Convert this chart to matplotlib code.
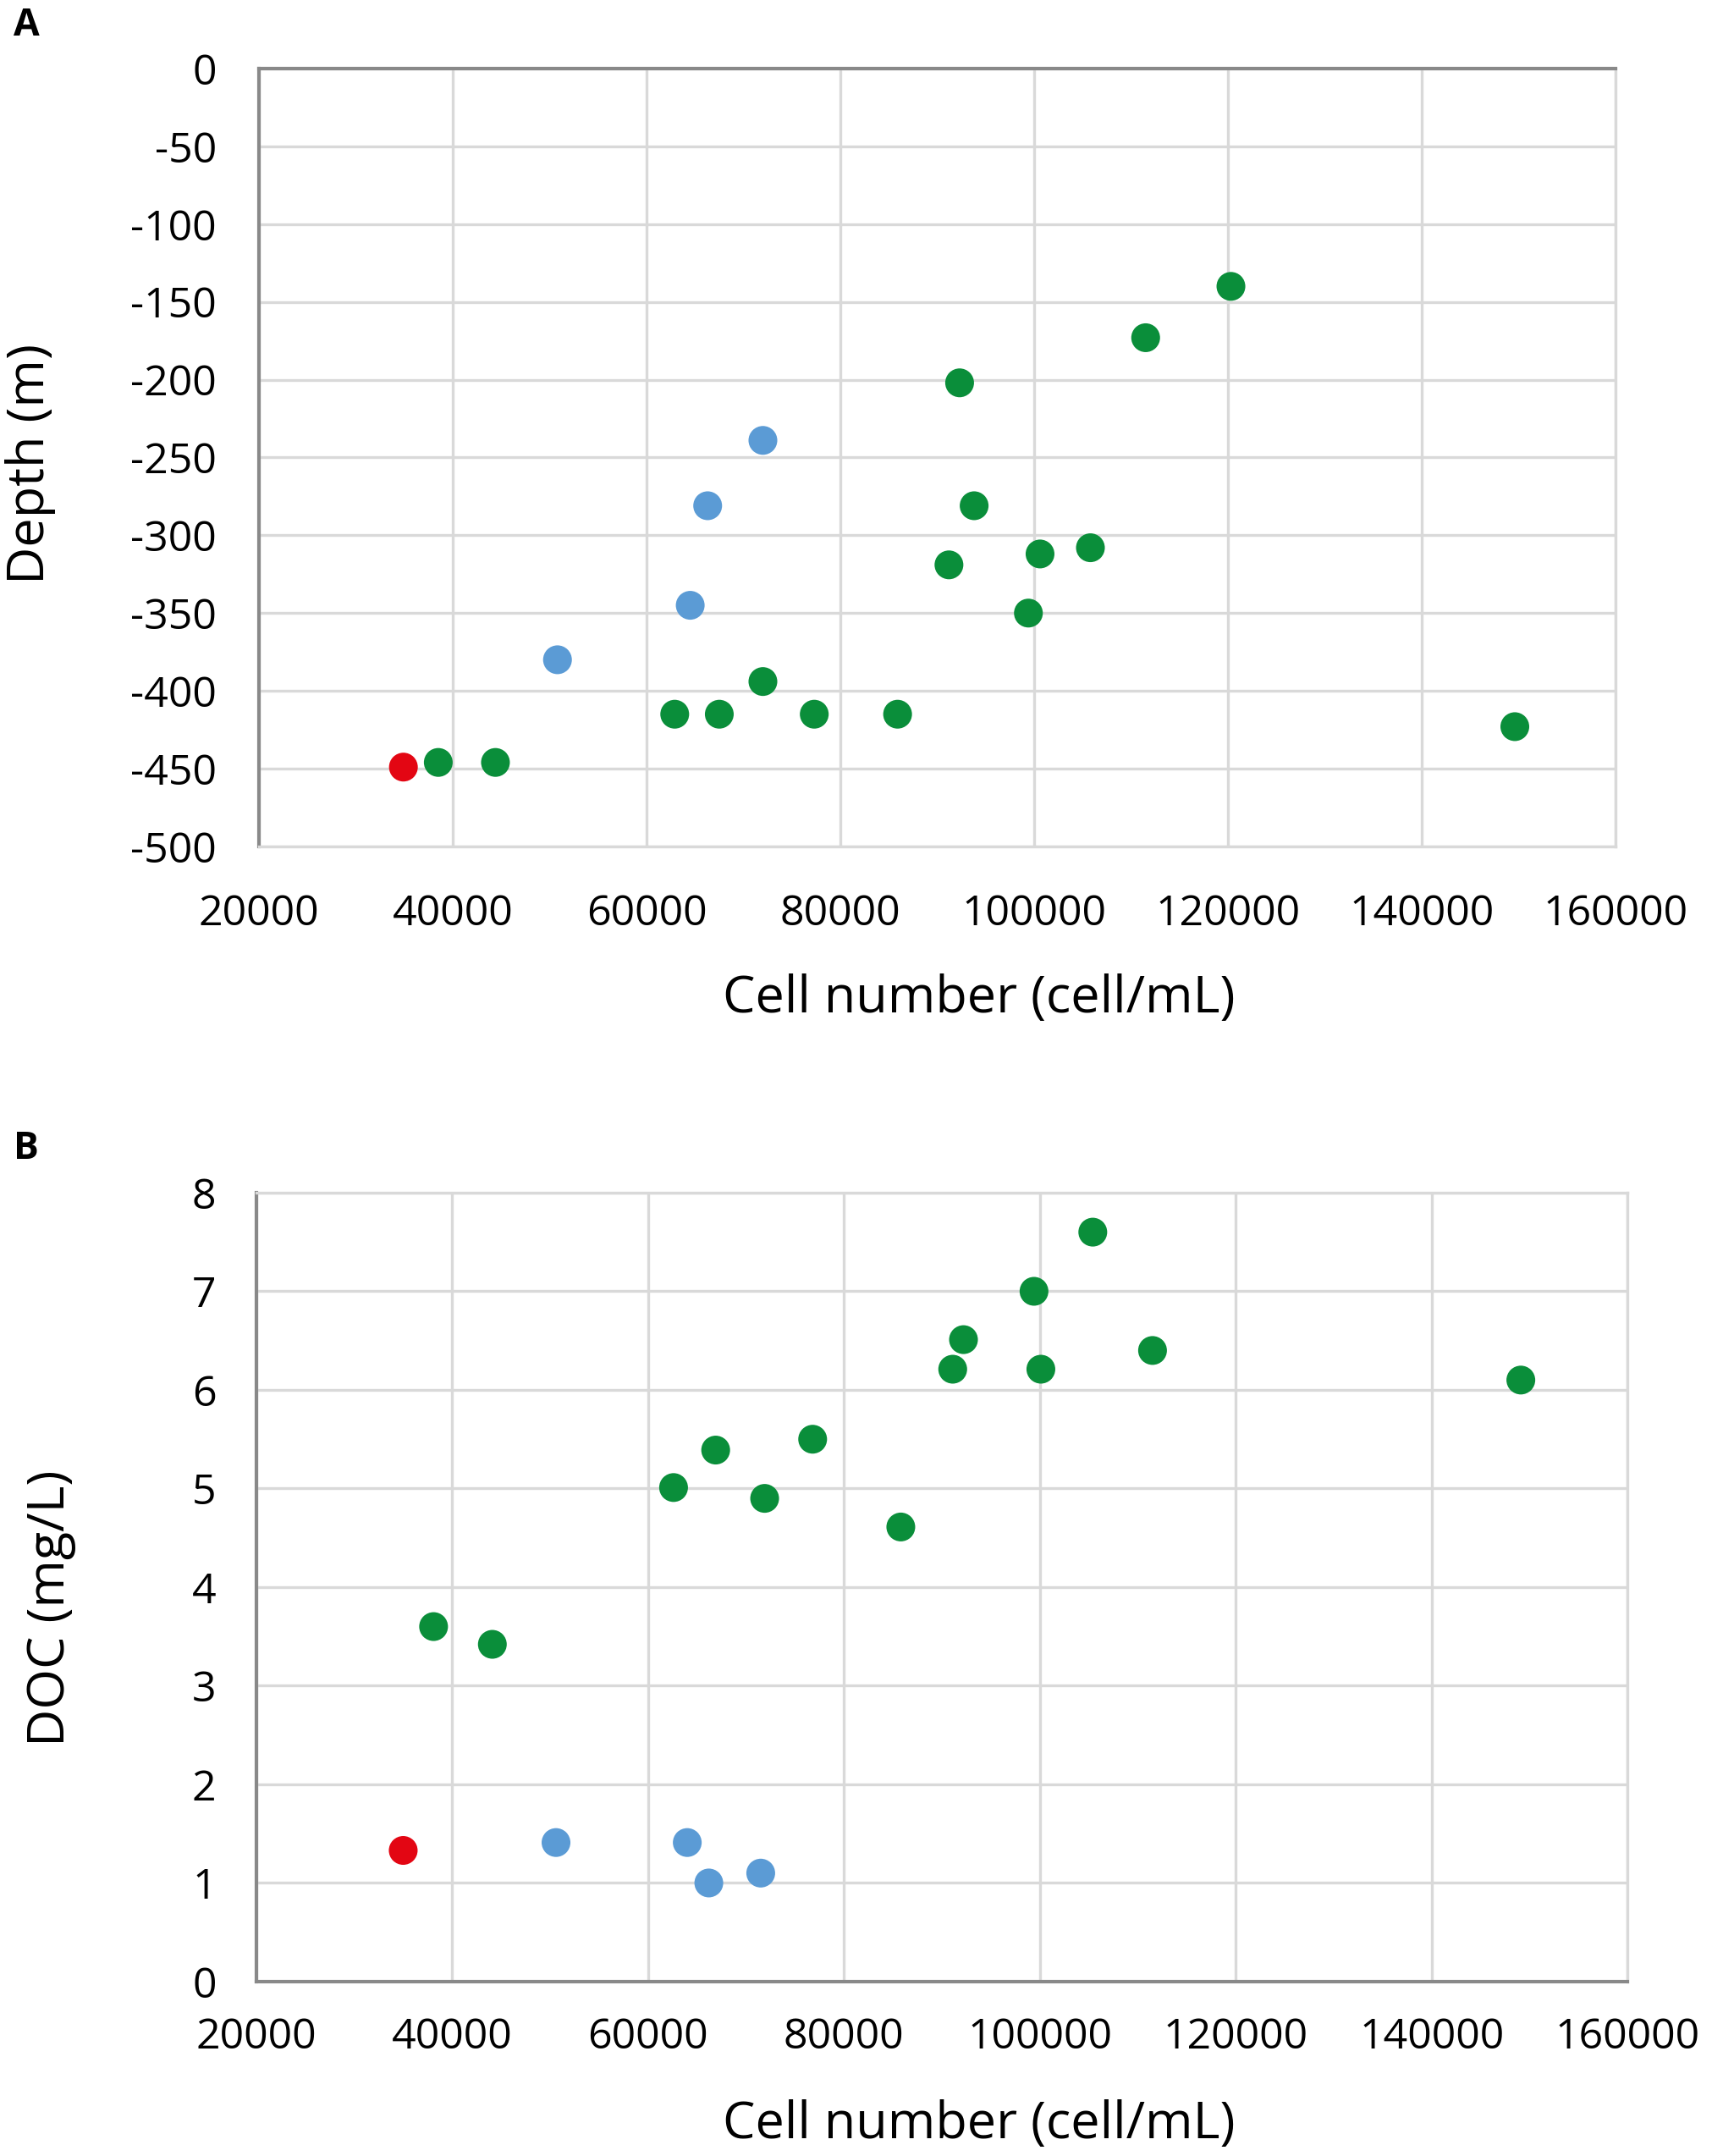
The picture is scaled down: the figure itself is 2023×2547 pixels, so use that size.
import matplotlib.pyplot as plt

# Panel A: cell number vs depth
a_green_x = [38500, 44400, 62900, 67500, 72000, 77300, 85900, 91200, 92300,
             93800, 99400, 100600, 105800, 111500, 120300, 149600]
a_green_y = [-446, -446, -415, -415, -394, -415, -415, -319, -202,
             -281, -350, -312, -308, -173, -140, -423]
a_blue_x = [50800, 64500, 66300, 72000]
a_blue_y = [-380, -345, -281, -239]
a_red_x = [34900]
a_red_y = [-449]

# Panel B: cell number vs DOC
b_green_x = [38100, 44100, 62600, 66900, 71900, 76800, 85800, 91100, 92200,
             99400, 100100, 105400, 111500, 149100]
b_green_y = [3.6, 3.42, 5.01, 5.39, 4.9, 5.5, 4.61, 6.21, 6.51,
             7.0, 6.21, 7.6, 6.4, 6.1]
b_blue_x = [50600, 64000, 66200, 71500]
b_blue_y = [1.41, 1.41, 1.0, 1.1]
b_red_x = [35000]
b_red_y = [1.33]

x_ticks = [20000, 40000, 60000, 80000, 100000, 120000, 140000, 160000]
a_y_ticks = [0, -50, -100, -150, -200, -250, -300, -350, -400, -450, -500]
b_y_ticks = [0, 1, 2, 3, 4, 5, 6, 7, 8]

GREEN = '#0a8e3a'
BLUE = '#5b9bd5'
RED = '#e30613'
GRID = '#d9d9d9'
AXIS = '#898989'
FONT = 'Open Sans'

fig = plt.figure(figsize=(20.23, 25.47), dpi=100)
axA = fig.add_axes([0.1513, 0.6074, 0.7924, 0.3608])
axB = fig.add_axes([0.1497, 0.0809, 0.8010, 0.3659])


def style(ax, xpad, ypad):
    ax.set_xlim(20000, 160000)
    ax.set_xticks(x_ticks)
    ax.set_xticklabels([str(t) for t in x_ticks], fontsize=36, family=FONT)
    ax.grid(True, color=GRID, linewidth=2.4, zorder=0)
    ax.set_axisbelow(True)
    ax.tick_params(length=0, pad=xpad, axis='x')
    ax.tick_params(length=0, pad=ypad, axis='y')
    for s in ax.spines.values():
        s.set_color(GRID)
        s.set_linewidth(2.4)
    ax.spines['left'].set_color(AXIS)
    ax.spines['left'].set_linewidth(3)


def scatter(ax, gx, gy, bx, by, rx, ry):
    ax.scatter(gx, gy, s=600, color=GREEN, edgecolors='none', zorder=3)
    ax.scatter(bx, by, s=600, color=BLUE, edgecolors='none', zorder=3)
    ax.scatter(rx, ry, s=600, color=RED, edgecolors='none', zorder=3)


# panel A
scatter(axA, a_green_x, a_green_y, a_blue_x, a_blue_y, a_red_x, a_red_y)
style(axA, 40, 36)
axA.set_ylim(-500, 0)
axA.set_yticks(a_y_ticks)
axA.set_yticklabels([str(t) for t in a_y_ticks], fontsize=36, family=FONT)
axA.spines['top'].set_color(AXIS)
axA.spines['top'].set_linewidth(3)

# panel B
scatter(axB, b_green_x, b_green_y, b_blue_x, b_blue_y, b_red_x, b_red_y)
style(axB, 30, 34)
axB.set_ylim(0, 8)
axB.set_yticks(b_y_ticks)
axB.set_yticklabels([str(t) for t in b_y_ticks], fontsize=36, family=FONT)
axB.spines['bottom'].set_color(AXIS)
axB.spines['bottom'].set_linewidth(3)

# labels
fig.text(0.572, 1 - 1180 / 2547, 'Cell number (cell/mL)', fontsize=44,
         family=FONT, ha='center', va='center')
fig.text(0.572, 1 - 2510 / 2547, 'Cell number (cell/mL)', fontsize=44,
         family=FONT, ha='center', va='center')
fig.text(36 / 2023, 1 - 548 / 2547, 'Depth (m)', fontsize=44, family=FONT,
         rotation=90, ha='center', va='center')
fig.text(60 / 2023, 1 - 1900 / 2547, 'DOC (mg/L)', fontsize=44, family=FONT,
         rotation=90, ha='center', va='center')
fig.text(16 / 2023, 1 - 30 / 2547, 'A', fontsize=32, fontweight='bold',
         family=FONT, ha='left', va='center')
fig.text(16 / 2023, 1 - 1357 / 2547, 'B', fontsize=32, fontweight='bold',
         family=FONT, ha='left', va='center')

fig.savefig('out.png', dpi=100)
